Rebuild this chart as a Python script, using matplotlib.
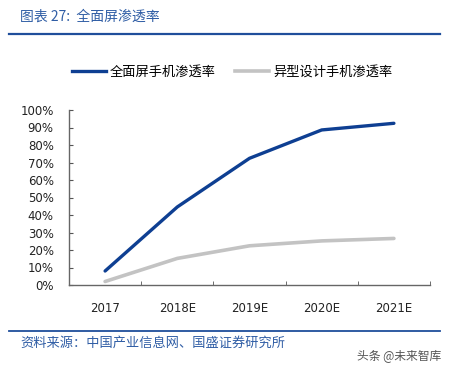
import matplotlib
matplotlib.use("Agg")
import matplotlib.pyplot as plt
from matplotlib.lines import Line2D
from matplotlib.ticker import PercentFormatter

plt.rcParams['font.family'] = ['Noto Sans CJK SC', 'DejaVu Sans']

years = ["2017", "2018E", "2019E", "2020E", "2021E"]
full_screen = [0.08, 0.446, 0.724, 0.886, 0.924]
special_shape = [0.02, 0.152, 0.224, 0.252, 0.266]

blue = "#0E3F92"
gray = "#C3C3C3"
title_blue = "#2F5DA5"

fig = plt.figure(figsize=(4.51, 3.71), dpi=100)
ax = fig.add_axes([69/451, 1 - 285/371, 361/451, 175/371])

x = list(range(len(years)))
ax.plot(x, full_screen, color=blue, lw=2.4, solid_capstyle="round")
ax.plot(x, special_shape, color=gray, lw=2.6, solid_capstyle="round")

ax.set_xlim(-0.5, len(years) - 0.5)
ax.set_ylim(0, 1)
ax.yaxis.set_major_formatter(PercentFormatter(1.0, decimals=0))
ax.set_yticks([i / 10 for i in range(11)])
ax.set_xticks(x)
ax.set_xticklabels(years)
ax.set_xticks([i - 0.5 for i in range(len(years) + 1)], minor=True)
ax.tick_params(axis="x", which="major", length=0, pad=12, labelsize=8.5, colors="#222222")
ax.tick_params(axis="x", which="minor", direction="in", length=3, color="#555555")
ax.tick_params(axis="y", direction="in", length=3, color="#555555", labelsize=8.5,
               labelcolor="#222222", pad=11)
for lbl in ax.get_xticklabels() + ax.get_yticklabels():
    lbl.set_family("DejaVu Sans")
for side in ("top", "right"):
    ax.spines[side].set_visible(False)
for side in ("left", "bottom"):
    ax.spines[side].set_color("#666666")
    ax.spines[side].set_linewidth(1.0)

# title and rules
fig.text(20/451, 1 - 17/371, "图表 27:  全面屏渗透率", fontsize=10, style="italic",
         color=title_blue, va="center", ha="left")
fig.add_artist(Line2D([9/451, 440/451], [1 - 34/371] * 2, color="#1F4E9B", lw=1.6))
fig.add_artist(Line2D([9/451, 440/451], [1 - 331/371] * 2, color="#1F4E9B", lw=1.3))
fig.text(20/451, 1 - 343/371, "资料来源：中国产业信息网、国盛证券研究所", fontsize=9.5,
         style="italic", color=title_blue, va="center", ha="left")
fig.text(441/451, 1 - 357/371, "头条 @未来智库", fontsize=8.5, color="#555555",
         va="center", ha="right")

# legend
handles = [Line2D([], [], color=blue, lw=2.4), Line2D([], [], color=gray, lw=2.6)]
fig.legend(handles, ["全面屏手机渗透率", "异型设计手机渗透率"], loc="center",
           bbox_to_anchor=(232/451, 1 - 72/371), ncol=2, frameon=False,
           fontsize=9.5, handlelength=2.6, handletextpad=0.3, columnspacing=1.4)

fig.savefig("out.png", dpi=100)
